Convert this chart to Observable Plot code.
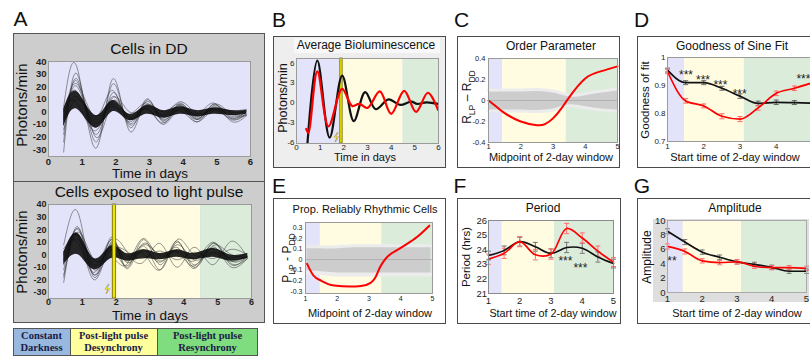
<!DOCTYPE html>
<html><head><meta charset="utf-8">
<script src="https://cdn.jsdelivr.net/npm/d3@7"></script>
<script src="https://cdn.jsdelivr.net/npm/@observablehq/plot@0.6"></script>
<style>
html,body{margin:0;padding:0;background:#fff;}
#root{position:relative;width:810px;height:360px;overflow:hidden;background:#fff;}
.box{position:absolute;box-sizing:border-box;border:1px solid #4a4a4a;}
</style></head><body><div id="root"></div>
<script>
// ================= DATA =================
// Panel A – single-cell traces, values (photons/min) at extremum times (days)
const ddTimes  = [0.45, 0.85, 1.4, 1.9, 2.4, 2.9, 3.4, 3.9, 4.4, 4.9, 5.4, 5.88];
const ddCell1  = [4, 35, -29, 26, -15, 9, -8, 6, -5, 4, -4, -2];
const ddCell2  = [-32, 30, -24, 22, -12, 10, -7, 7, -6, 6, -5, -1];
const ddCell3  = [-18, 24, -18, 15, -9, 8, -4, 5, -8, 5, -3, 0];
const ddCell4  = [-10, 20, -12, 12, -6, 6, -6, 3, -4, 3, -6, -2];
const ddCell5  = [2, 16, -9, 9, -4, 4, -3, 5, -3, 2, -2, 1];
const ddCell6  = [-6, 12, -6, 6, -8, 3, -10, 2, -6, 6, -1, -3];
const ddCell7  = [-14, 10, -3, 4, -2, 7, -2, 8, -1, 2, 1, 2];
const ddCell8  = [0, 7, -15, 11, 0, 2, -5, 1, -8, 1, -5, 0];
const ddCell9  = [-24, 26, -20, 8, -5, 3, -9, 4, -2, 7, -7, -3];
const ddCell10 = [-4, 22, -4, 17, -10, 5, 0, 6, -6, 3, 0, 1];
const ddCoreLo = [-12, 2, -13, 0, -7, -2, -5, -2, -4, -2, -3, -2];
const ddCoreHi = [2, 16, -3, 9, -2, 5, 1, 4, 1, 3, 1, 1];

const lpTimes  = [0.45, 0.88, 1.35, 1.85, 2.3, 2.8, 3.3, 3.8, 4.3, 4.85, 5.35, 5.88];
const lpCell1  = [8, 33, -18, 14, -10, 12, -8, 11, -10, 9, -7, -1];
const lpCell2  = [-22, 22, -16, 12, -11, 7, -12, 10, -8, 9, -6, -3];
const lpCell3  = [-12, 20, -12, 10, 3, -6, 9, -10, 6, -8, 10, -2];
const lpCell4  = [-4, 16, -9, 6, -5, 4, -5, 4, -3, 5, -3, -1];
const lpCell5  = [2, 12, -5, 4, 3, -3, 3, -4, 2, -3, 4, 0];
const lpCell6  = [-16, 18, -4, -2, -8, 13, -3, 6, -11, 6, -9, -3];
const lpCell7  = [5, 9, -14, 9, -1, 1, -12, 12, 0, 2, -2, 1];
const lpCell8  = [-8, 14, -20, 8, -3, 8, 0, 3, -5, 10, -4, -2];
const lpCell9  = [-18, 21, -8, 12, -6, 3, -6, 8, -4, 1, -5, -1];
const lpCell10 = [0, 15, -16, 3, -9, 9, -1, 2, -9, 7, 1, -2];
const lpCoreLo = [-8, 0, -12, -3, -5, -3, -4, -2, -4, -2, -5, -3];
const lpCoreHi = [2, 17, -3, 7, 1, 4, 1, 4, 1, 5, 0, 1];

// Panel B – average bioluminescence
const bBlackT = [0.45, 0.88, 1.4, 1.93, 2.42, 2.9, 3.35, 3.89, 4.38, 4.85, 5.1, 5.5, 6.0];
const bBlackV = [-6.8, 6.4, -5.3, 4.1, -2.8, 1.6, -1.0, 0.5, -0.35, 0.15, -0.2, 0.05, -0.2];
const bRedT   = [0.41, 0.5, 0.88, 1.35, 1.93, 2.35, 2.65, 3.0, 3.52, 4.0, 4.55, 5.05, 5.55, 5.98];
const bRedV   = [-4.0, -4.6, 4.75, -3.6, 2.1, -0.5, -0.2, -0.8, 1.7, -1.7, 1.8, -1.4, 1.5, -1.1];

// Panel C – order parameter
const cRedX  = [1.0, 1.25, 1.5, 2.0, 2.5, 2.75, 3.0, 3.25, 3.5, 4.0, 4.5, 5.0];
const cRedY  = [0.0, -0.06, -0.12, -0.2, -0.235, -0.225, -0.17, -0.08, 0.03, 0.21, 0.28, 0.325];
const cBandX = [1.0, 1.5, 2.0, 2.5, 3.0, 3.3, 3.6, 4.0, 4.5, 5.0];
const cBandHi = [0.1, 0.1, 0.1, 0.105, 0.09, 0.065, 0.05, 0.065, 0.09, 0.11];
const cBandLo = [-0.1, -0.1, -0.1, -0.105, -0.09, -0.06, -0.05, -0.07, -0.09, -0.1];

// Panel E – proportion of reliably rhythmic cells
const eRedX  = [1.05, 1.25, 1.5, 1.9, 2.4, 2.75, 3.05, 3.2, 3.35, 3.5, 4.0, 4.5, 4.9];
const eRedY  = [-0.04, -0.15, -0.2, -0.245, -0.255, -0.25, -0.22, -0.17, -0.07, 0.0, 0.11, 0.21, 0.32];
const eBandX = [1.05, 1.5, 2.0, 2.5, 3.0, 3.5, 4.0, 4.5, 4.95];
const eBandHi = [0.12, 0.12, 0.12, 0.13, 0.13, 0.13, 0.13, 0.13, 0.13];
const eBandLo = [-0.12, -0.13, -0.14, -0.14, -0.14, -0.14, -0.14, -0.14, -0.14];

// Panels D, F, G – 2-day windows
const winX = [1, 1.5, 2, 2.5, 3, 3.5, 4, 4.5, 5];
const dBlack = [0.955, 0.91, 0.91, 0.89, 0.862, 0.836, 0.84, 0.839, 0.837];
const dRed   = [0.95, 0.845, 0.827, 0.79, 0.78, 0.82, 0.872, 0.89, 0.91];
const dBlackErr = [0.007, 0.007, 0.007, 0.007, 0.008, 0.008, 0.008, 0.007, 0.007];
const dRedErr   = [0.008, 0.008, 0.007, 0.009, 0.009, 0.008, 0.008, 0.008, 0.008];
const dStarX = [1.51, 1.98, 2.46, 2.99, 4.75];
const dStarY = [0.946, 0.931, 0.911, 0.881, 0.935];

const fBlack = [23.6, 23.95, 24.55, 24.2, 23.75, 24.15, 24.1, 23.5, 23.05];
const fRed   = [23.35, 23.75, 24.55, 23.65, 23.7, 25.45, 24.8, 23.9, 23.15];
const fBlackErr = [0.3, 0.3, 0.3, 0.3, 0.3, 0.35, 0.35, 0.35, 0.3];
const fRedErr   = [0.35, 0.35, 0.35, 0.35, 0.35, 0.35, 0.35, 0.35, 0.3];
const fStarX = [3.46, 3.94];
const fStarY = [23.45, 22.97];

const gBlack = [8.5, 7.0, 5.6, 4.9, 4.25, 3.9, 3.5, 2.95, 2.95];
const gRed   = [6.4, 5.7, 4.4, 4.15, 4.25, 3.65, 3.45, 3.45, 3.35];
const gBlackErr = [0.35, 0.35, 0.3, 0.3, 0.3, 0.3, 0.3, 0.3, 0.3];
const gRedErr   = [0.35, 0.35, 0.3, 0.3, 0.3, 0.3, 0.3, 0.3, 0.3];
const gStarX = [1.13];
const gStarY = [4.82];

// Phase regions (days)
const aTopRegions = [{from: 0, to: 6, phase: "dd"}];
const aBotRegions = [{from: 0, to: 1.9, phase: "dd"}, {from: 2.0, to: 4.5, phase: "de"}, {from: 4.5, to: 6, phase: "re"}];
const aPulse = [{from: 1.9, to: 2.0}];
const aBolt = [{t: 1.75, v: -27.5}];
const bRegions = [{from: 0, to: 1.85, phase: "dd"}, {from: 1.95, to: 4.5, phase: "de"}, {from: 4.5, to: 6, phase: "re"}];
const bPulse = [{from: 1.85, to: 1.95}];
const bBolt = [{t: 1.7, v: -5.3}];
const cRegions = [{from: 1, to: 1.44, phase: "dd"}, {from: 1.44, to: 3.41, phase: "de"}, {from: 3.41, to: 5, phase: "re"}];
const dRegions = [{from: 1, to: 1.47, phase: "dd"}, {from: 1.47, to: 3.12, phase: "de"}, {from: 3.12, to: 5, phase: "re"}];
const eRegions = [{from: 1, to: 1.47, phase: "dd"}, {from: 1.47, to: 3.4, phase: "de"}, {from: 3.4, to: 5, phase: "re"}];
const fRegions = [{from: 1, to: 1.44, phase: "dd"}, {from: 1.44, to: 3.11, phase: "de"}, {from: 3.11, to: 5, phase: "re"}];
const gRegions = [{from: 1, to: 1.45, phase: "dd"}, {from: 1.45, to: 3.13, phase: "de"}, {from: 3.13, to: 5, phase: "re"}];

// Ticks
const ticksA_x = [0, 1, 2, 3, 4, 5, 6];
const ticksA_y = [40, 30, 20, 10, 0, -10, -20, -30];
const ticksB_y = [6, 3, 0, -3, -6];
const ticks15 = [1, 2, 3, 4, 5];
const ticksC_y = [0.4, 0.2, 0, -0.2, -0.4];
const ticksD_y = [1, 0.9, 0.8, 0.7];
const ticksE_y = [0.3, 0.2, 0.1, 0, -0.1, -0.2, -0.3];
const ticksF_y = [26, 25, 24, 23, 22, 21];
const ticksG_y = [10, 8, 6, 4, 2, 0];

// Legend
const legendLabels = [["Constant", "Darkness"], ["Post-light pulse", "Desynchrony"], ["Post-light pulse", "Resynchrony"]];

// ================= DRAWING =================
const FONT = "'Liberation Sans', Arial, Helvetica, sans-serif";
const INK = "#222";
const phaseFill = {dd: "#e3e3fa", de: "#fffce2", re: "#dbecdb"};
const root = document.getElementById("root");

function box(x0, y0, x1, y1, bg, border = "#4a4a4a") {
  const d = document.createElement("div");
  d.className = "box";
  Object.assign(d.style, {left: x0 + "px", top: y0 + "px", width: (x1 - x0) + "px", height: (y1 - y0) + "px", background: bg, borderColor: border});
  root.appendChild(d);
  return d;
}

function plotAt(cfg) {
  const {box: [bx0, by0, bx1, by1], frame: [fx0, fy0, fx1, fy1], xd, yd, xt, yt,
    fs = 8, fw = "normal", xpad = 1, ypad = 2, marks, frameStroke = "#9a9a9a"} = cfg;
  const svg = Plot.plot({
    width: bx1 - bx0, height: by1 - by0,
    marginLeft: fx0 - bx0, marginRight: bx1 - fx1, marginTop: fy0 - by0, marginBottom: by1 - fy1,
    x: {domain: xd}, y: {domain: yd},
    style: {background: "transparent", fontFamily: FONT, overflow: "visible", color: INK},
    marks: [
      ...marks,
      Plot.frame({stroke: frameStroke}),
      Plot.axisX({ticks: xt, tickSize: 0, tickPadding: xpad, fontSize: fs, fontWeight: fw, label: null, tickFormat: d => String(d)}),
      Plot.axisY({ticks: yt, tickSize: 0, tickPadding: ypad, fontSize: fs, fontWeight: fw, label: null, tickFormat: d => String(d)})
    ]
  });
  Object.assign(svg.style, {position: "absolute", left: bx0 + "px", top: by0 + "px", maxWidth: "none", height: (by1 - by0) + "px"});
  root.appendChild(svg);
}

const regionMark = regs => Plot.rect(regs, {x1: "from", x2: "to", fill: d => phaseFill[d.phase]});
const pulseMark = p => Plot.rect(p, {x1: "from", x2: "to", fill: "#efe500", stroke: "#6f6a00", strokeWidth: 0.8});
const boltMark = b => Plot.text(b, {x: "t", y: "v", text: () => "\u26A1", fill: "#f2e200", stroke: "#444", strokeWidth: 0.4, fontSize: 11, fontFamily: "DejaVu Sans", rotate: -20});
const traces = (times, cells) => cells.flatMap((arr, k) => arr.map((v, i) => ({t: times[i], v, id: k})));
const pts = (xs, ys, es) => xs.map((x, i) => ({x, v: ys[i], lo: es ? ys[i] - es[i] : 0, hi: es ? ys[i] + es[i] : 0}));
const band = (xs, lo, hi) => xs.map((x, i) => ({x, lo: lo[i], hi: hi[i]}));
function errMarks(data, color, cap) {
  return [
    Plot.ruleX(data, {x: "x", y1: "lo", y2: "hi", stroke: color, strokeWidth: 1}),
    Plot.link(data, {x1: d => d.x - cap, x2: d => d.x + cap, y1: "hi", y2: "hi", stroke: color, strokeWidth: 1}),
    Plot.link(data, {x1: d => d.x - cap, x2: d => d.x + cap, y1: "lo", y2: "lo", stroke: color, strokeWidth: 1})
  ];
}
const starMark = (xs, ys, s, size) => Plot.text(xs.map((x, i) => ({x, y: ys[i]})), {x: "x", y: "y", text: () => s, fontSize: size, dy: 3, fill: "#222"});

// ---------- Panel A ----------
box(13, 33, 265, 182, "#cdcdcd", "#555");
box(13, 181, 265, 323, "#cdcdcd", "#555");

const ddCore = ddTimes.map((t, i) => ({t, lo: ddCoreLo[i], hi: ddCoreHi[i]}));
plotAt({
  box: [13, 33, 265, 182], frame: [48, 61, 250, 156], xd: [0, 6], yd: [-35.5, 40],
  xt: ticksA_x, yt: ticksA_y, fs: 9.5, fw: "bold", xpad: 1.5, ypad: 2,
  marks: [
    regionMark(aTopRegions),
    Plot.line(traces(ddTimes, [ddCell1, ddCell2, ddCell3, ddCell4, ddCell5, ddCell6, ddCell7, ddCell8, ddCell9, ddCell10]),
      {x: "t", y: "v", z: "id", curve: "natural", stroke: "#3a3a3a", strokeWidth: 0.7, strokeOpacity: 0.75, clip: true}),
    Plot.areaY(ddCore, {x: "t", y1: "lo", y2: "hi", curve: "natural", fill: "#0a0a0a", fillOpacity: 0.88})
  ]
});

const lpCore = lpTimes.map((t, i) => ({t, lo: lpCoreLo[i], hi: lpCoreHi[i]}));
plotAt({
  box: [13, 181, 265, 323], frame: [48, 204, 251, 298], xd: [0, 6], yd: [-34.8, 40],
  xt: ticksA_x, yt: ticksA_y, fs: 9, fw: "bold", xpad: 0.6, ypad: 2,
  marks: [
    regionMark(aBotRegions),
    Plot.line(traces(lpTimes, [lpCell1, lpCell2, lpCell3, lpCell4, lpCell5, lpCell6, lpCell7, lpCell8, lpCell9, lpCell10]),
      {x: "t", y: "v", z: "id", curve: "natural", stroke: "#3a3a3a", strokeWidth: 0.7, strokeOpacity: 0.75, clip: true}),
    Plot.areaY(lpCore, {x: "t", y1: "lo", y2: "hi", curve: "natural", fill: "#0a0a0a", fillOpacity: 0.88}),
    pulseMark(aPulse),
    boltMark(aBolt)
  ]
});

// legend boxes
const legendFill = ["#98b8df", "#ffff9c", "#7fdc7f"];
const legendX = [13, 70, 157, 258];
legendLabels.forEach((lab, i) => box(legendX[i], 328, legendX[i + 1] + (i < 2 ? 1 : 0), 356, legendFill[i], "#555"));

// ---------- Panel B ----------
box(273, 36, 446, 168, "#eeeeee");
const bt = document.createElement("div");
Object.assign(bt.style, {position: "absolute", left: "294px", top: "38px", width: "146px", height: "15px", background: "#f8f8f8"});
root.appendChild(bt);
plotAt({
  box: [274, 37, 445, 167], frame: [296, 58, 438, 143], xd: [0, 6], yd: [-6.2, 6.7],
  xt: ticksA_x, yt: ticksB_y, fs: 8, xpad: 1, ypad: 2,
  marks: [
    regionMark(bRegions),
    pulseMark(bPulse),
    Plot.line(pts(bBlackT, bBlackV), {x: "x", y: "v", curve: "catmull-rom", stroke: "#111", strokeWidth: 2.2, clip: true}),
    Plot.line(pts(bRedT, bRedV), {x: "x", y: "v", curve: "catmull-rom", stroke: "#ff0000", strokeWidth: 2.2, clip: true}),
    boltMark(bBolt)
  ]
});

// ---------- Panel C ----------
box(457, 36, 620, 168, "#fff");
const cBand = band(cBandX, cBandLo, cBandHi);
plotAt({
  box: [458, 37, 619, 167], frame: [488, 58, 617, 142], xd: [1, 5], yd: [-0.4, 0.4],
  xt: ticks15, yt: ticksC_y, fs: 7.5, xpad: 1.3, ypad: 3,
  marks: [
    regionMark(cRegions),
    Plot.areaY(cBand, {x: "x", y1: "lo", y2: "hi", curve: "natural", fill: "#cdcdcd"}),
    Plot.line(cBand, {x: "x", y: "hi", curve: "natural", stroke: "#ececec", strokeWidth: 3}),
    Plot.line(cBand, {x: "x", y: "lo", curve: "natural", stroke: "#ececec", strokeWidth: 3}),
    Plot.ruleY([0], {stroke: "#aaa", strokeWidth: 0.8}),
    Plot.line(pts(cRedX, cRedY), {x: "x", y: "v", curve: "natural", stroke: "#ff0000", strokeWidth: 2})
  ]
});

// ---------- Panel D ----------
box(637, 36, 830, 168, "#fff");
plotAt({
  box: [638, 37, 829, 167], frame: [667, 57, 812, 141], xd: [1, 5], yd: [0.7, 1],
  xt: ticks15, yt: ticksD_y, fs: 8, xpad: 2, ypad: 2,
  marks: [
    regionMark(dRegions),
    ...errMarks(pts(winX, dBlack, dBlackErr), "#666", 0.07),
    ...errMarks(pts(winX, dRed, dRedErr), "#ff6a6a", 0.07),
    Plot.line(pts(winX, dBlack), {x: "x", y: "v", curve: "monotone-x", stroke: "#111", strokeWidth: 1.7}),
    Plot.line(pts(winX, dRed), {x: "x", y: "v", curve: "monotone-x", stroke: "#ff0000", strokeWidth: 1.7}),
    starMark(dStarX, dStarY, "***", 12)
  ]
});

// ---------- Panel E ----------
box(273, 198, 446, 324, "#fff");
const eBand = band(eBandX, eBandLo, eBandHi);
plotAt({
  box: [274, 199, 445, 323], frame: [305, 222, 432, 293], xd: [1, 5], yd: [-0.32, 0.35],
  xt: ticks15, yt: ticksE_y, fs: 7, xpad: 2.5, ypad: 3,
  marks: [
    regionMark(eRegions),
    Plot.areaY(eBand, {x: "x", y1: "lo", y2: "hi", curve: "natural", fill: "#cdcdcd"}),
    Plot.line(eBand, {x: "x", y: "hi", curve: "natural", stroke: "#ececec", strokeWidth: 3}),
    Plot.line(eBand, {x: "x", y: "lo", curve: "natural", stroke: "#ececec", strokeWidth: 4}),
    Plot.ruleY([0], {stroke: "#aaa", strokeWidth: 0.8}),
    Plot.line(pts(eRedX, eRedY), {x: "x", y: "v", curve: "monotone-x", stroke: "#ff0000", strokeWidth: 2})
  ]
});

// ---------- Panel F ----------
box(457, 198, 621, 324, "#fff");
plotAt({
  box: [458, 199, 620, 323], frame: [488, 220, 613, 293], xd: [1, 5], yd: [21, 26],
  xt: ticks15, yt: ticksF_y, fs: 9.5, xpad: 3.4, ypad: 1.5, frameStroke: "#8a8a8a",
  marks: [
    regionMark(fRegions),
    ...errMarks(pts(winX, fBlack, fBlackErr), "#777", 0.08),
    ...errMarks(pts(winX, fRed, fRedErr), "#ff7070", 0.08),
    Plot.line(pts(winX, fBlack), {x: "x", y: "v", curve: "catmull-rom", stroke: "#111", strokeWidth: 1.7}),
    Plot.line(pts(winX, fRed), {x: "x", y: "v", curve: "catmull-rom", stroke: "#ff0000", strokeWidth: 1.7}),
    starMark(fStarX, fStarY, "***", 12)
  ]
});

// ---------- Panel G ----------
box(637, 198, 830, 324, "#fff");
const gbg = document.createElement("div");
Object.assign(gbg.style, {position: "absolute", left: "653px", top: "219px", width: "156px", height: "83px", background: "#dedede"});
root.appendChild(gbg);
plotAt({
  box: [638, 199, 829, 323], frame: [667, 220, 806, 292], xd: [1, 5], yd: [0, 10],
  xt: ticks15, yt: ticksG_y, fs: 9.5, xpad: 2.6, ypad: 2, frameStroke: "#aaa",
  marks: [
    regionMark(gRegions),
    ...errMarks(pts(winX, gBlack, gBlackErr), "#777", 0.07),
    ...errMarks(pts(winX, gRed, gRedErr), "#ff7070", 0.07),
    Plot.line(pts(winX, gBlack), {x: "x", y: "v", curve: "monotone-x", stroke: "#111", strokeWidth: 1.7}),
    Plot.line(pts(winX, gRed), {x: "x", y: "v", curve: "monotone-x", stroke: "#ff0000", strokeWidth: 1.7}),
    starMark(gStarX, gStarY, "**", 12)
  ]
});

// ---------- Text overlay ----------
const ov = d3.select(root).append("svg").attr("width", 810).attr("height", 360)
  .style("position", "absolute").style("left", 0).style("top", 0).style("overflow", "visible");
function T(x, y, s, size, opt = {}) {
  const t = ov.append("text").attr("x", x).attr("y", y).attr("dy", "0.35em")
    .attr("text-anchor", opt.anchor || "middle").attr("font-size", size)
    .attr("font-family", opt.family || FONT).attr("fill", opt.fill || "#111");
  if (opt.weight) t.attr("font-weight", opt.weight);
  if (opt.rot) t.attr("transform", `rotate(${opt.rot},${x},${y})`);
  if (Array.isArray(s)) {
    s.forEach(([txt, sub]) => {
      const sp = t.append("tspan").text(txt);
      if (sub) sp.attr("font-size", size * 0.72).attr("dy", size * 0.28);
      else if (sp.node().previousSibling) sp.attr("dy", -size * 0.28);
    });
  } else t.text(s);
  return t;
}
// panel letters
[["A", 20.5, 19], ["B", 279, 19.5], ["C", 461.5, 19.5], ["D", 641.5, 19.5], ["E", 279, 186], ["F", 460, 186], ["G", 642, 186]]
  .forEach(([l, x, y]) => T(x, y, l, 21));
// A
T(149, 49, "Cells in DD", 15.5);
T(22, 105, "Photons/min", 15, {rot: -90});
T(150, 173.5, "Time in days", 13.5);
T(149, 192, "Cells exposed to light pulse", 15.5);
T(22, 252, "Photons/min", 15, {rot: -90});
T(150, 315, "Time in days", 13.5);
// legend text
const legendCx = [41.5, 113.5, 207.5];
legendLabels.forEach((lab, i) => {
  T(legendCx[i], 335, lab[0], 10.5, {family: "'Liberation Serif', 'Times New Roman', serif", weight: "bold", fill: "#1b1b45"});
  T(legendCx[i], 347.5, lab[1], 10.5, {family: "'Liberation Serif', 'Times New Roman', serif", weight: "bold", fill: "#1b1b45"});
});
// B
T(366, 45, "Average  Bioluminescence", 12);
T(283, 98, "Photons/min", 12.5, {rot: -90});
T(365, 157, "Time in days", 11);
// C
T(551, 46, "Order  Parameter", 12);
T(467, 97, [["R"], ["LP", 1], [" \u2013 R"], ["DD", 1]], 12, {rot: -90});
T(551, 157, "Midpoint of 2-day window", 11);
// D
T(732, 46, "Goodness  of  Sine Fit", 12);
T(645, 100, "Goodness of fit", 11.5, {rot: -90});
T(735, 157, "Start time of 2-day window", 11);
// E
T(365, 209, "Prop. Reliably Rhythmic Cells", 11);
T(287, 258, [["P"], ["LP", 1], [" - P"], ["DD", 1]], 12, {rot: -90});
T(370, 313, "Midpoint of 2-day window", 11);
// F
T(543, 208, "Period", 12);
T(466, 257, "Period (hrs)", 11.5, {rot: -90});
T(553, 313, "Start time of 2-day window", 10.8);
// G
T(735, 208, "Amplitude", 12);
T(647, 257, "Amplitude", 12, {rot: -90});
T(737, 313, "Start time of 2-day window", 11);
</script></body></html>
